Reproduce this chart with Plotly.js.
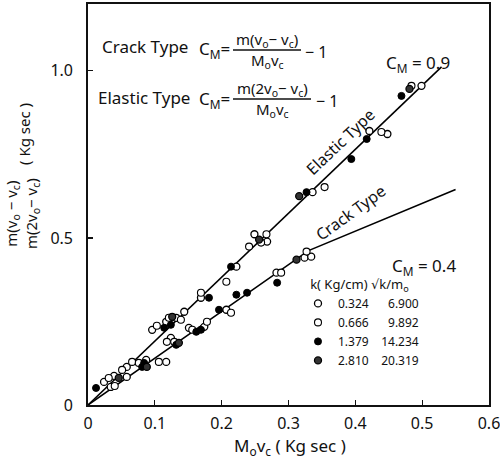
<!DOCTYPE html>
<html><head><meta charset="utf-8">
<script src="https://cdn.plot.ly/plotly-3.0.1.min.js"></script>
<style>html,body{margin:0;padding:0;background:#fff}#chart{width:500px;height:465px}</style>
</head><body><div id="chart"></div>
<script>
// Legend values
const kValues = ['0.324', '0.666', '1.379', '2.810'];
const omegaValues = ['6.900', '9.892', '14.234', '20.319'];

// Series: k = 0.324 (open circles)
const s1x = [0.024,0.039,0.058,0.096,0.117,0.132,0.144,0.169,0.222,0.249,0.268,0.336,0.421,0.448,0.499,
             0.034,0.058,0.087,0.117,0.124,0.151,0.174,0.207,0.282,0.324,0.334];
const s1y = [0.069,0.087,0.114,0.225,0.249,0.261,0.279,0.321,0.414,0.511,0.489,0.637,0.820,0.811,0.955,
             0.054,0.084,0.135,0.129,0.201,0.231,0.234,0.285,0.396,0.441,0.444];
// Series: k = 0.666 (open circles)
const s2x = [0.031,0.051,0.066,0.103,0.121,0.139,0.169,0.207,0.241,0.259,0.267,0.354,0.439,0.484,
             0.040,0.076,0.106,0.118,0.129,0.156,0.178,0.214,0.289,0.327];
const s2y = [0.081,0.105,0.129,0.237,0.261,0.255,0.336,0.369,0.474,0.486,0.511,0.652,0.817,0.955,
             0.057,0.126,0.129,0.189,0.189,0.225,0.249,0.276,0.396,0.459];
// Series: k = 1.379 (filled)
const s3x = [0.012,0.114,0.124,0.181,0.214,0.327,0.394,0.417,0.469,
             0.081,0.084,0.132,0.162,0.169,0.196,0.222,0.238,0.283];
const s3y = [0.051,0.231,0.240,0.321,0.414,0.637,0.736,0.796,0.925,
             0.114,0.126,0.180,0.219,0.225,0.285,0.330,0.336,0.366];
// Series: k = 2.810 (half filled)
const s4x = [0.046,0.126,0.256,0.316,0.481, 0.088,0.136,0.312];
const s4y = [0.081,0.264,0.495,0.625,0.946, 0.114,0.186,0.435];

// Fitted lines
const elasticLineX = [0, 0.529];
const elasticLineY = [0, 1.012];
const crackLineX = [0, 0.33, 0.55];
const crackLineY = [0, 0.462, 0.645];

// Axis ticks
const xTickVals = [0, 0.1, 0.2, 0.3, 0.4, 0.5, 0.6];
const xTickText = ['0', '0.1', '0.2', '0.3', '0.4', '0.5', '0.6'];
const yTickVals = [0, 0.5, 1.0];
const yTickText = ['0', '0.5', '1.0'];

const FONT = 'Noto Sans, DejaVu Sans, sans-serif';
const NB = '\u00a0', FS = '\u2007';
function legendName(i) {
  const w = omegaValues[i];
  const pad = w.length < 6 ? FS : '';
  return kValues[i] + NB + NB + NB + NB + pad + w;
}

const markerStyles = [
  {symbol: 'circle', size: 7, color: '#ffffff', line: {color: '#000', width: 1.3}},
  {symbol: 'circle', size: 7, color: '#ffffff', line: {color: '#000', width: 1.1}},
  {symbol: 'circle', size: 7, color: '#000000', line: {color: '#000', width: 1}},
  {symbol: 'circle', size: 7, color: '#333333', line: {color: '#000', width: 1.3}}
];
const seriesX = [s1x, s2x, s3x, s4x];
const seriesY = [s1y, s2y, s3y, s4y];

const traces = [
  {x: elasticLineX, y: elasticLineY, mode: 'lines', line: {color: '#000', width: 1.6}, showlegend: false, hoverinfo: 'skip'},
  {x: crackLineX, y: crackLineY, mode: 'lines', line: {color: '#000', width: 1.6}, showlegend: false, hoverinfo: 'skip'}
];
for (let i = 0; i < 4; i++) {
  traces.push({x: seriesX[i], y: seriesY[i], mode: 'markers', name: legendName(i),
    marker: markerStyles[i], cliponaxis: false});
}

// pixel -> paper helpers (plot area: left 88, top 4, 401 x 401)
const L = 88, T = 4, W = 401, H = 401;
const px = v => (v - L) / W;
const py = v => (T + H - v) / H;

function ann(text, x, y, size, opts) {
  return Object.assign({text: text, x: px(x), y: py(y), xref: 'paper', yref: 'paper',
    xanchor: 'center', yanchor: 'middle', showarrow: false,
    font: {family: FONT, size: size, color: '#111'}}, opts || {});
}

const annotations = [
  ann('Crack Type', 100, 47, 17, {xanchor: 'left'}),
  ann('C<sub>M</sub>=', 197, 49, 17, {xanchor: 'left'}),
  ann('m(v<sub>o</sub>− v<sub>c</sub>)', 267, 40, 15),
  ann('M<sub>o</sub>v<sub>c</sub>', 267, 61, 15),
  ann('− 1', 303, 52, 16, {xanchor: 'left'}),

  ann('Elastic Type', 96, 97, 17, {xanchor: 'left'}),
  ann('C<sub>M</sub>=', 197, 99, 17, {xanchor: 'left'}),
  ann('m(2v<sub>o</sub>− v<sub>c</sub>)', 272, 89, 15),
  ann('M<sub>o</sub>v<sub>c</sub>', 272, 110, 15),
  ann('− 1', 314, 101, 16, {xanchor: 'left'}),

  ann('C<sub>M</sub> = 0.9', 384, 63, 17, {xanchor: 'left'}),
  ann('C<sub>M</sub> = 0.4', 390, 266, 17, {xanchor: 'left'}),
  ann('Elastic Type', 340, 142, 16, {textangle: -43.5}),
  ann('Crack Type', 350, 213, 16, {textangle: -36}),

  ann('M<sub>o</sub>v<sub>c</sub> ( Kg sec )', 290, 446, 17),
  ann('m(v<sub>o</sub> − v<sub>c</sub>)<br>m(2v<sub>o</sub>− v<sub>c</sub>)', 22, 214, 15, {textangle: -90}),
  ann('( Kg sec )', 24, 134, 15, {textangle: -90})
];

const shapes = [
  {type: 'line', xref: 'paper', yref: 'paper', x0: px(233), x1: px(301), y0: py(50), y1: py(50), line: {color: '#111', width: 1.3}},
  {type: 'line', xref: 'paper', yref: 'paper', x0: px(233), x1: px(311), y0: py(99), y1: py(99), line: {color: '#111', width: 1.3}}
];

const layout = {
  width: 500, height: 465,
  margin: {l: L, r: 500 - L - W, t: T, b: 465 - T - H, pad: 0},
  paper_bgcolor: '#fff', plot_bgcolor: '#fff',
  font: {family: FONT, color: '#111'},
  xaxis: {range: [0, 0.6], tickvals: xTickVals, ticktext: xTickText, ticks: 'inside', ticklen: 5,
    tickwidth: 1.2, tickcolor: '#111', showline: true, linecolor: '#111', linewidth: 1.6, mirror: true,
    showgrid: false, zeroline: false, tickfont: {family: FONT, size: 16, color: '#111'}, ticklabelstandoff: 3,
    ticklabeloverflow: 'allow'},
  yaxis: {range: [0, 1.2], tickvals: yTickVals, ticktext: yTickText, ticks: 'inside', ticklen: 5,
    tickwidth: 1.2, tickcolor: '#111', showline: true, linecolor: '#111', linewidth: 1.8, mirror: true,
    showgrid: false, zeroline: false, tickfont: {family: FONT, size: 16, color: '#111'}, ticklabelstandoff: 10},
  legend: {x: px(298), y: py(272), xanchor: 'left', yanchor: 'top', bgcolor: 'rgba(0,0,0,0)',
    borderwidth: 0, itemwidth: 30, tracegroupgap: 0,
    font: {family: FONT, size: 12, color: '#111'},
    title: {text: NB + NB + NB + 'k( Kg/cm)\u00a0√k/m<sub>o</sub>', font: {family: FONT, size: 13, color: '#111'}}},
  annotations: annotations,
  shapes: shapes,
  showlegend: true
};

Plotly.newPlot('chart', traces, layout, {displayModeBar: false, staticPlot: true});
</script>
</body></html>
